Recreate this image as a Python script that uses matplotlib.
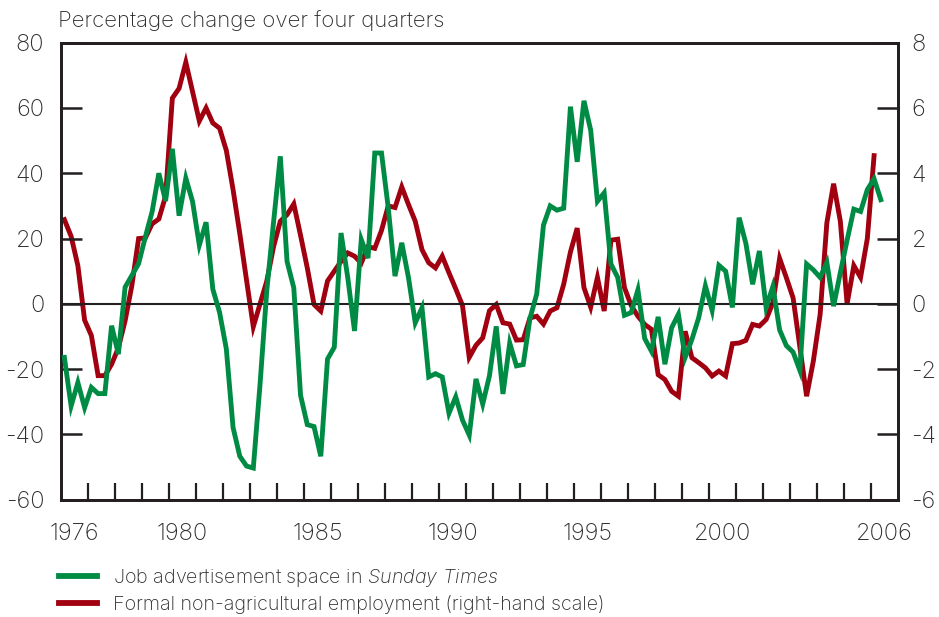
import numpy as np
import pandas as pd
import matplotlib
matplotlib.use("Agg")
import matplotlib.pyplot as plt
from matplotlib.lines import Line2D
from matplotlib import font_manager as fm

FONT = 'Inter'
plt.rcParams['font.family'] = [FONT, 'DejaVu Sans']
plt.rcParams['font.weight'] = 'light'

_ital = next((fam for fam in ['Inter', 'Roboto', 'Open Sans', 'Lato', 'Liberation Sans']
              if any(f.name == fam and f.style == 'italic' for f in fm.fontManager.ttflist)),
             'DejaVu Sans')
plt.rcParams['mathtext.fontset'] = 'custom'
plt.rcParams['mathtext.rm'] = f'{FONT}:light'
plt.rcParams['mathtext.it'] = f'{_ital}:italic:light'

# Quarterly periods
green_quarters = pd.period_range('1976Q1', '2006Q2', freq='Q')
red_quarters = pd.period_range('1976Q1', '2006Q1', freq='Q')

# Job advertisement space in Sunday Times (left-hand scale, %)
job_ads = [
    -16.4, -31.3, -24.1, -31.8, -25.6, -27.5, -27.5, -6.7, -15.4, 5.1,
    8.7, 12.3, 20.5, 28.2, 40.0, 31.5, 47.5, 27.0, 38.5, 31.3,
    18.0, 25.0, 4.5, -2.6, -13.8, -37.9, -46.7, -49.7, -50.3, -24.6,
    4.1, 25.0, 45.2, 13.0, 4.9, -28.0, -37.0, -37.6, -46.7, -16.9,
    -13.3, 21.7, 8.0, -8.3, 19.7, 14.0, 46.2, 46.2, 29.4, 8.5,
    18.7, 8.0, -5.8, -1.2, -22.4, -21.4, -22.4, -33.5, -28.5, -35.6,
    -40.2, -23.0, -30.7, -22.0, -6.9, -27.6, -12.0, -19.0, -18.6, -4.5,
    3.0, 24.1, 30.0, 28.7, 29.3, 60.4, 43.5, 62.2, 53.2, 31.4,
    34.0, 12.2, 8.1, -3.5, -2.7, 4.3, -10.6, -14.5, -4.0, -18.5,
    -7.3, -3.2, -16.4, -10.9, -4.3, 5.5, -2.0, 11.8, 10.0, -1.1,
    26.4, 18.5, 6.0, 16.2, -1.1, 5.3, -8.0, -12.8, -14.8, -20.4,
    12.2, 10.4, 8.1, 12.7, -0.7, 9.6, 19.5, 29.0, 28.3, 35.0,
    38.3, 31.9,
]

# Formal non-agricultural employment (right-hand scale, %)
employment = [
    2.58, 2.07, 1.17, -0.50, -0.97, -2.20, -2.20, -1.85, -1.35, -0.52,
    0.56, 2.00, 2.02, 2.45, 2.60, 3.30, 6.30, 6.60, 7.40, 6.50,
    5.60, 6.00, 5.54, 5.38, 4.70, 3.50, 2.15, 0.72, -0.70, 0.00,
    0.70, 1.75, 2.53, 2.73, 3.06, 2.10, 1.10, -0.02, -0.22, 0.70,
    1.00, 1.30, 1.56, 1.46, 1.25, 1.75, 1.70, 2.25, 3.00, 2.95,
    3.58, 3.04, 2.53, 1.66, 1.26, 1.10, 1.46, 0.95, 0.46, -0.05,
    -1.64, -1.27, -1.04, -0.21, -0.02, -0.58, -0.62, -1.11, -1.10, -0.43,
    -0.38, -0.62, -0.22, -0.12, 0.60, 1.59, 2.32, 0.50, -0.10, 0.81,
    -0.22, 1.95, 1.98, 0.50, -0.05, -0.38, -0.63, -0.78, -2.17, -2.32,
    -2.68, -2.83, -0.84, -1.65, -1.80, -1.96, -2.21, -2.06, -2.21, -1.22,
    -1.20, -1.12, -0.63, -0.68, -0.48, 0.03, 1.39, 0.80, 0.18, -1.32,
    -2.83, -1.75, -0.33, 2.48, 3.68, 2.53, 0.00, 1.17, 0.81, 2.00,
    4.54,
]

left_ticks = [-60, -40, -20, 0, 20, 40, 60, 80]
right_ticks = [-6, -4, -2, 0, 2, 4, 6, 8]
year_labels = ['1976', '1980', '1985', '1990', '1995', '2000', '2006']

GREEN = '#008B45'
RED = '#A0000F'
INK = '#231F20'
TXT = '#2E2E2E'


def to_decimal(periods):
    # mid-quarter position in decimal years
    return np.array([p.year + (p.quarter - 1) * 0.25 + 0.125 for p in periods])


xg = to_decimal(green_quarters)
xr = to_decimal(red_quarters)

fig = plt.figure(figsize=(9.39, 6.17), dpi=100)
ax = fig.add_axes([61 / 939, 1 - 499.7 / 617, (897.7 - 61) / 939, (499.7 - 42.7) / 617])
ax2 = ax.twinx()
ax.set_zorder(ax2.get_zorder() + 1)
ax.patch.set_visible(False)

ax.axhline(0, color=INK, lw=1.5, zorder=1)
ax2.plot(xr, employment, color=RED, lw=3.5, solid_joinstyle='miter', zorder=2)
ax.plot(xg, job_ads, color=GREEN, lw=3.5, solid_joinstyle='miter', zorder=3)

ax.set_xlim(1976, 2007)
ax.set_ylim(-60, 80)
ax2.set_ylim(-6, 8)

ax.set_yticks(left_ticks)
ax.set_yticklabels([str(v) for v in left_ticks])
ax2.set_yticks(right_ticks)
ax2.set_yticklabels([str(v) for v in right_ticks])

label_pos = [int(y) + 0.5 for y in year_labels]
ax.set_xticks(label_pos)
ax.set_xticklabels(year_labels)
ax.set_xticks(list(range(1977, 2007)), minor=True)

ax.tick_params(axis='x', which='major', length=0, pad=17, labelsize=17, labelcolor=TXT)
ax.tick_params(axis='x', which='minor', direction='in', length=12, width=1.6, color=INK)
ax.tick_params(axis='y', which='major', direction='in', length=15, width=1.8, color=INK,
               pad=12, labelsize=17, labelcolor=TXT)
ax2.tick_params(axis='y', which='major', direction='in', length=15, width=1.8, color=INK,
                pad=10, labelsize=17, labelcolor=TXT)

for a in (ax, ax2):
    for s in a.spines.values():
        s.set_color(INK)
        s.set_linewidth(2.0)

fig.text(58 / 939, 1 - 27 / 617, 'Percentage change over four quarters',
         fontsize=16, color=TXT, ha='left', va='baseline')

handles = [Line2D([], [], color=GREEN, lw=4.2),
           Line2D([], [], color=RED, lw=4.2)]
labels = [r'Job advertisement space in $\it{Sunday\ Times}$',
          'Formal non-agricultural employment (right-hand scale)']
leg = fig.legend(handles, labels, loc='upper left',
                 bbox_to_anchor=(59 / 939, 1 - 567 / 617), frameon=False,
                 fontsize=14.2, handlelength=1.95, handletextpad=0.78,
                 labelspacing=0.3, borderpad=0, borderaxespad=0)
for t in leg.get_texts():
    t.set_color(TXT)

fig.savefig('out.png', dpi=100)
